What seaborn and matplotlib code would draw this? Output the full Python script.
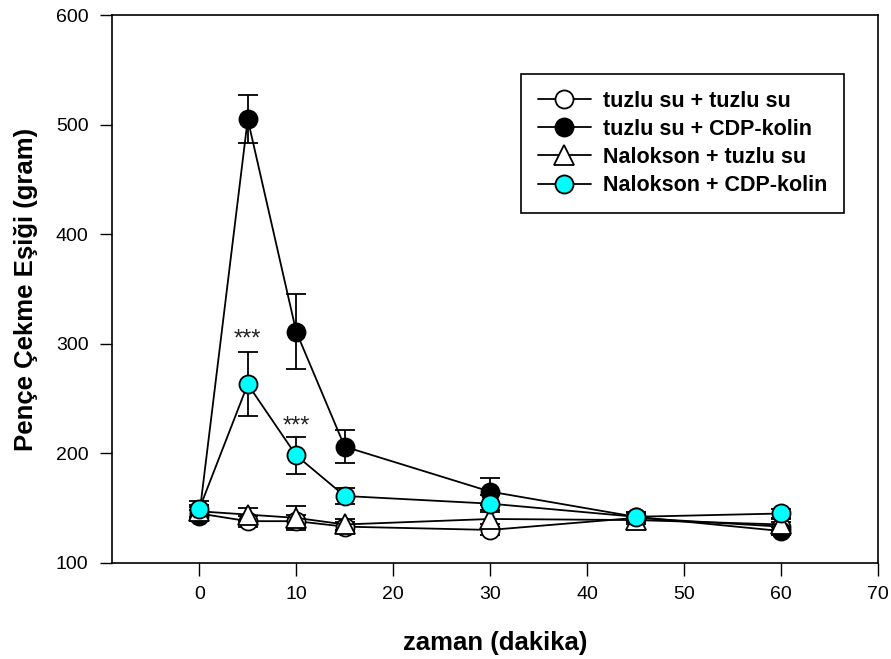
import numpy as np
import pandas as pd
import matplotlib
matplotlib.use("Agg")
import matplotlib.pyplot as plt
import seaborn as sns

# zaman noktalari (dakika)
zaman = [0, 5, 10, 15, 30, 45, 60]

seri_adlari = [
    "tuzlu su + tuzlu su",
    "tuzlu su + CDP-kolin",
    "Nalokson + tuzlu su",
    "Nalokson + CDP-kolin",
]

tuzlu_tuzlu = [145, 138, 138, 133, 130, 141, 133]
tuzlu_tuzlu_err = [6, 5, 6, 4, 5, 4, 4]

tuzlu_cdp = [143, 505, 311, 206, 165, 142, 129]
tuzlu_cdp_err = [5, 22, 34, 15, 12, 4, 4]

nal_tuzlu = [147, 144, 141, 135, 140, 139, 135]
nal_tuzlu_err = [6, 6, 11, 5, 8, 4, 5]

nal_cdp = [149, 263, 198, 161, 154, 142, 145]
nal_cdp_err = [7, 29, 17, 7, 8, 4, 4]

yildiz_x = [5, 10]
yildiz_y = [294, 214]

sns.set_theme(style="ticks")
plt.rcParams["font.family"] = ["Liberation Sans", "DejaVu Sans"]
plt.rcParams["text.color"] = "black"
plt.rcParams["axes.labelcolor"] = "black"
plt.rcParams["xtick.color"] = "black"
plt.rcParams["ytick.color"] = "black"

df = pd.DataFrame({
    "zaman": zaman * 4,
    "deger": tuzlu_tuzlu + tuzlu_cdp + nal_tuzlu + nal_cdp,
    "grup": np.repeat(seri_adlari, len(zaman)),
})
hatalar = [tuzlu_tuzlu_err, tuzlu_cdp_err, nal_tuzlu_err, nal_cdp_err]

stiller = {
    seri_adlari[0]: dict(marker="o", mfc="white"),
    seri_adlari[1]: dict(marker="o", mfc="black"),
    seri_adlari[2]: dict(marker="^", mfc="white"),
    seri_adlari[3]: dict(marker="o", mfc="cyan"),
}

fig = plt.figure(figsize=(8.91, 6.59), dpi=100)
ax = fig.add_axes([0.1257, 0.146, 0.8597, 0.831])

for ad, err in zip(seri_adlari, hatalar):
    d = df[df["grup"] == ad]
    ax.errorbar(d["zaman"], d["deger"], yerr=err, fmt="none", ecolor="black",
                elinewidth=1.3, capsize=7, capthick=1.3, zorder=2)
    st = stiller[ad]
    sns.lineplot(data=d, x="zaman", y="deger", ax=ax, color="black", lw=1.3,
                 marker=st["marker"], markersize=13 if st["marker"] == "o" else 14,
                 markerfacecolor=st["mfc"], markeredgecolor="black",
                 markeredgewidth=1.3, label=ad, zorder=3)

for x, y in zip(yildiz_x, yildiz_y):
    ax.text(x, y, "***", ha="center", va="bottom", fontsize=17, color="#222222")

ax.set_xlim(-9, 70)
ax.set_ylim(100, 600)
ax.set_xticks(range(0, 71, 10))
ax.set_yticks(range(100, 601, 100))
ax.tick_params(axis="both", labelsize=14, direction="out", length=9, width=1,
               color="black", pad=8)
for s in ax.spines.values():
    s.set_color("black")
    s.set_linewidth(1.2)

ax.set_xlabel("zaman (dakika)", fontsize=18.5, fontweight="bold", labelpad=20)
ax.set_ylabel("Pençe Çekme Eşiği (gram)", fontsize=18.5, fontweight="bold", labelpad=13)

leg = ax.legend(loc="upper right", bbox_to_anchor=(0.970, 0.913), fancybox=False,
                framealpha=1, edgecolor="black", prop={"weight": "bold", "size": 15.5},
                handlelength=2.45, borderpad=0.8, labelspacing=0.33, handletextpad=0.55,
                markerscale=1.0)
leg.get_frame().set_linewidth(1.2)

fig.savefig("out.png", dpi=100)
